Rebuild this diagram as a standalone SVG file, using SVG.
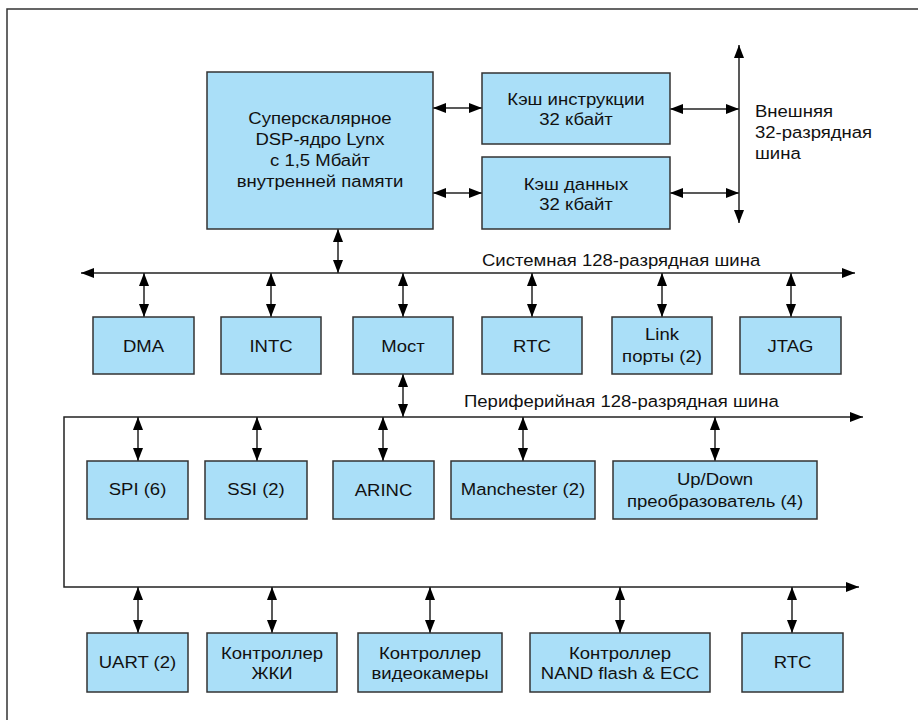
<svg xmlns="http://www.w3.org/2000/svg" width="918" height="720" viewBox="0 0 918 720">
<defs>
<marker id="ah" viewBox="0 0 13 10" refX="13" refY="5" markerWidth="13" markerHeight="10" markerUnits="userSpaceOnUse" orient="auto-start-reverse">
<path d="M0,0 L13,5 L0,10 z" fill="#000"/>
</marker>
<style>
.box{fill:#aadff8;stroke:#333;stroke-width:1.5}
.t{font-family:"Liberation Sans",Arial,sans-serif;font-size:17px;fill:#111;text-anchor:middle;transform-box:fill-box;transform-origin:center;transform:scaleX(1.09)}
.l{font-family:"Liberation Sans",Arial,sans-serif;font-size:17px;fill:#111;transform-box:fill-box;transform-origin:left center;transform:scaleX(1.09)}
.c{fill:none;stroke:#222;stroke-width:1.5;marker-start:url(#ah);marker-end:url(#ah)}
</style>
</defs>
<rect x="0" y="0" width="918" height="720" fill="#fff"/>
<path d="M7,730 V9 H930" fill="none" stroke="#333" stroke-width="1.5"/>

<g id="connectors">
<line class="c" x1="433" y1="108" x2="482" y2="108"/>
<line class="c" x1="433" y1="193" x2="482" y2="193"/>
<line class="c" x1="670" y1="109" x2="739" y2="109"/>
<line class="c" x1="670" y1="193" x2="739" y2="193"/>
<line class="c" x1="739" y1="45" x2="739" y2="223"/>
<line class="c" x1="338" y1="229" x2="338" y2="273"/>
<line class="c" x1="81" y1="273" x2="855" y2="273"/>
<line class="c" x1="144" y1="273" x2="144" y2="317"/>
<line class="c" x1="271" y1="273" x2="271" y2="317"/>
<line class="c" x1="403" y1="273" x2="403" y2="317"/>
<line class="c" x1="532" y1="273" x2="532" y2="317"/>
<line class="c" x1="662" y1="273" x2="662" y2="317"/>
<line class="c" x1="791" y1="273" x2="791" y2="317"/>
<line class="c" x1="403" y1="374" x2="403" y2="417"/>
<polyline class="c" points="863,417 64,417 64,587 859,587"/>
<line class="c" x1="138" y1="417" x2="138" y2="461"/>
<line class="c" x1="257" y1="417" x2="257" y2="461"/>
<line class="c" x1="383" y1="417" x2="383" y2="461"/>
<line class="c" x1="523" y1="417" x2="523" y2="461"/>
<line class="c" x1="715" y1="417" x2="715" y2="461"/>
<line class="c" x1="138" y1="587" x2="138" y2="633"/>
<line class="c" x1="272" y1="587" x2="272" y2="633"/>
<line class="c" x1="430" y1="587" x2="430" y2="633"/>
<line class="c" x1="620" y1="587" x2="620" y2="633"/>
<line class="c" x1="792" y1="587" x2="792" y2="633"/>
</g>

<g id="labels">
<text class="l" x="755" y="117">Внешняя</text>
<text class="l" x="755" y="138">32-разрядная</text>
<text class="l" x="755" y="159">шина</text>
<text class="l" x="482" y="266">Системная 128-разрядная шина</text>
<text class="l" x="464" y="407">Периферийная 128-разрядная шина</text>
</g>

<g id="dsp"><rect class="box" x="207" y="72" width="226" height="157"/>
<text class="t" x="320" y="124">Суперскалярное</text>
<text class="t" x="320" y="145">DSP-ядро Lynx</text>
<text class="t" x="320" y="166">с 1,5 Мбайт</text>
<text class="t" x="320" y="187">внутренней памяти</text></g>

<g id="icache"><rect class="box" x="482" y="73" width="188" height="71"/>
<text class="t" x="576" y="105">Кэш инструкции</text>
<text class="t" x="576" y="125">32 кбайт</text></g>

<g id="dcache"><rect class="box" x="482" y="157" width="188" height="72"/>
<text class="t" x="576" y="190">Кэш данных</text>
<text class="t" x="576" y="210">32 кбайт</text></g>

<g id="dma"><rect class="box" x="93" y="317" width="101" height="57"/><text class="t" x="143.5" y="352">DMA</text></g>
<g id="intc"><rect class="box" x="221" y="317" width="100" height="57"/><text class="t" x="271" y="352">INTC</text></g>
<g id="most"><rect class="box" x="353" y="317" width="100" height="57"/><text class="t" x="403" y="352">Мост</text></g>
<g id="rtc1"><rect class="box" x="482" y="317" width="100" height="57"/><text class="t" x="532" y="352">RTC</text></g>
<g id="link"><rect class="box" x="612" y="317" width="100" height="57"/><text class="t" x="662" y="340">Link</text><text class="t" x="662" y="362">порты (2)</text></g>
<g id="jtag"><rect class="box" x="740" y="317" width="101" height="57"/><text class="t" x="790.5" y="352">JTAG</text></g>

<g id="spi"><rect class="box" x="87" y="461" width="101" height="58"/><text class="t" x="137.5" y="495">SPI (6)</text></g>
<g id="ssi"><rect class="box" x="205" y="461" width="102" height="58"/><text class="t" x="256" y="495">SSI (2)</text></g>
<g id="arinc"><rect class="box" x="333" y="461" width="101" height="58"/><text class="t" x="383.5" y="496">ARINC</text></g>
<g id="manchester"><rect class="box" x="451" y="461" width="144" height="58"/><text class="t" x="523" y="495">Manchester (2)</text></g>
<g id="updown"><rect class="box" x="613" y="461" width="204" height="58"/><text class="t" x="715" y="485">Up/Down</text><text class="t" x="715" y="507">преобразователь (4)</text></g>

<g id="uart"><rect class="box" x="87" y="633" width="101" height="59"/><text class="t" x="137.5" y="668">UART (2)</text></g>
<g id="lcd"><rect class="box" x="207" y="633" width="130" height="59"/><text class="t" x="272" y="659">Контроллер</text><text class="t" x="272" y="679">ЖКИ</text></g>
<g id="video"><rect class="box" x="358" y="633" width="144" height="59"/><text class="t" x="430" y="659">Контроллер</text><text class="t" x="430" y="679">видеокамеры</text></g>
<g id="nand"><rect class="box" x="530" y="633" width="180" height="59"/><text class="t" x="620" y="659">Контроллер</text><text class="t" x="620" y="679">NAND flash &amp; ECC</text></g>
<g id="rtc2"><rect class="box" x="742" y="633" width="101" height="59"/><text class="t" x="792.5" y="668">RTC</text></g>
</svg>
